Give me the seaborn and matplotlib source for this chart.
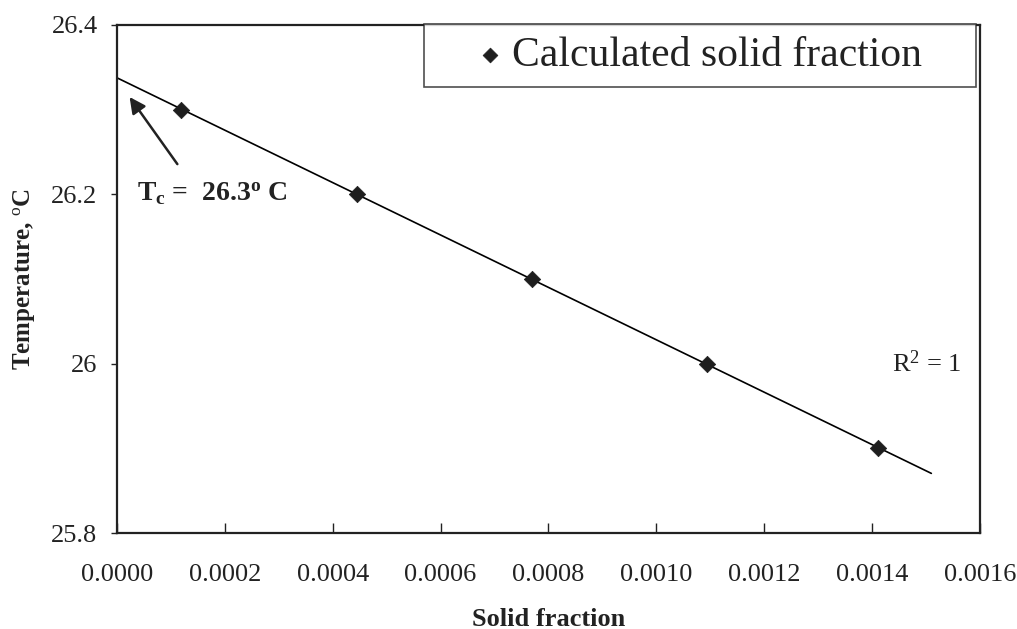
import numpy as np
import pandas as pd
import matplotlib
matplotlib.use("Agg")
import matplotlib.pyplot as plt
import seaborn as sns

# ---- data ----
solid_fraction = [0.000119, 0.000446, 0.000770, 0.001094, 0.001411]
temperature = [26.3, 26.2, 26.1, 26.0, 25.9]
fit_x_range = [0.0, 0.00151]
x_ticks = [0.0, 0.0002, 0.0004, 0.0006, 0.0008, 0.0010, 0.0012, 0.0014, 0.0016]
x_ticklabels = ["0.0000", "0.0002", "0.0004", "0.0006", "0.0008", "0.0010", "0.0012", "0.0014", "0.0016"]
y_ticks = [25.8, 26.0, 26.2, 26.4]
y_ticklabels = ["25.8", "26", "26.2", "26.4"]
series_name = "Calculated solid fraction"

sns.set_theme(style="white")
plt.rcParams["font.family"] = ["Liberation Serif", "DejaVu Serif"]
plt.rcParams["mathtext.fontset"] = "custom"
plt.rcParams["mathtext.rm"] = "Liberation Serif"
plt.rcParams["mathtext.bf"] = "Liberation Serif:bold"
plt.rcParams["mathtext.it"] = "Liberation Serif:italic"

df = pd.DataFrame({"x": solid_fraction, "y": temperature})

# linear trend line from the data
slope, intercept = np.polyfit(solid_fraction, temperature, 1)
fit_x = np.array(fit_x_range)
fit_df = pd.DataFrame({"x": fit_x, "y": slope * fit_x + intercept})

fig = plt.figure(figsize=(10.17, 6.29), dpi=100)
ax = fig.add_axes([0.115, 0.1526, 0.8485, 0.8077])

sns.lineplot(data=fit_df, x="x", y="y", ax=ax, color="black", lw=1.2, legend=False)
sns.scatterplot(data=df, x="x", y="y", ax=ax, marker="D", s=70, color="#1e1e1e",
                edgecolor="#1e1e1e", linewidth=0.5, label=series_name, zorder=5)

ax.set_xlim(0, 0.0016)
ax.set_ylim(25.8, 26.4)
ax.set_xticks(x_ticks)
ax.set_xticklabels(x_ticklabels)
ax.set_yticks(y_ticks)
ax.set_yticklabels(y_ticklabels)

ax.tick_params(axis="x", direction="in", length=7, width=1, pad=22, labelsize=19, colors="#222222")
ax.tick_params(axis="y", direction="out", length=4, width=1, pad=10, labelsize=19, colors="#222222")
ax.tick_params(axis="both", bottom=True, left=True)

for sp in ax.spines.values():
    sp.set_visible(True)
    sp.set_color("#222222")
    sp.set_linewidth(1.6)

ax.set_xlabel("Solid fraction", fontsize=19, fontweight="bold", labelpad=16, color="#222222")
ax.set_ylabel("Temperature, $^{\\mathrm{o}}$C", fontsize=18, fontweight="bold", labelpad=10, color="#222222")

# annotation
ax.annotate("", xy=(0.0000204, 26.3176), xytext=(0.000115, 26.233),
            arrowprops=dict(arrowstyle="-|>", color="#222222", lw=1.8, mutation_scale=24))
ax.text(0.000037, 26.2, r"$\mathbf{T_c}$ =  26.3$^{\mathbf{o}}$ C", fontsize=20, fontweight="bold",
        ha="left", va="center", color="#222222")
ax.text(0.001437, 26.0, r"R$^2$ = 1", fontsize=19, ha="left", va="center", color="#222222")

leg = ax.legend(loc="upper left", bbox_to_anchor=(0.356, 0.878, 0.639, 0.124), mode="expand",
                fontsize=30, frameon=True, fancybox=False, borderpad=0.3,
                handlelength=2.54, handletextpad=-0.72, markerscale=0.9, borderaxespad=0)
leg.get_frame().set_edgecolor("#222222")
leg.get_frame().set_linewidth(1.2)
for t in leg.get_texts():
    t.set_color("#222222")

fig.savefig("out.png", dpi=100)
